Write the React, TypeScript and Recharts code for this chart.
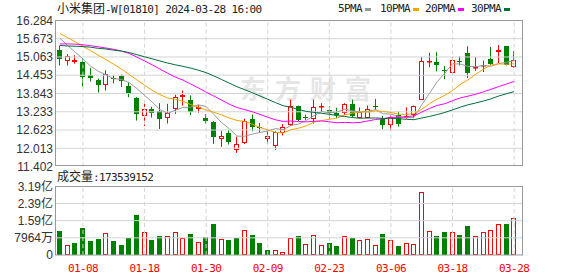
import { ComposedChart, Bar, Line, XAxis, YAxis, ReferenceLine } from "recharts"

const dates = [
  "01-03", "01-04", "01-05", "01-08", "01-09", "01-10", "01-11", "01-12", "01-15", "01-16",
  "01-17", "01-18", "01-19", "01-22", "01-23", "01-24", "01-25", "01-26", "01-29", "01-30",
  "01-31", "02-01", "02-02", "02-05", "02-06", "02-07", "02-08", "02-09", "02-14", "02-15",
  "02-16", "02-19", "02-20", "02-21", "02-22", "02-23", "02-26", "02-27", "02-28", "02-29",
  "03-01", "03-04", "03-05", "03-06", "03-07", "03-08", "03-11", "03-12", "03-13", "03-14",
  "03-15", "03-18", "03-19", "03-20", "03-21", "03-22", "03-25", "03-26", "03-27", "03-28",
]

const open = [
  15.3, 14.92, 14.88, 14.9, 14.46, 14.3, 14.14, 14.36, 14.42, 14.1,
  13.7, 13.08, 13.32, 13.26, 13.04, 13.34, 13.74, 13.64, 13.34, 13.02,
  12.88, 12.32, 12.54, 11.96, 12.18, 12.98, 12.72, 12.34, 12.08, 12.54,
  12.78, 13.42, 13.06, 12.98, 13.38, 13.3, 13.18, 13.18, 13.5, 13.04,
  13.04, 13.42, 13.0, 12.78, 13.12, 13.02, 13.14, 13.64, 14.9, 14.9,
  14.62, 14.54, 14.94, 15.2, 14.7, 14.78, 15.0, 15.22, 15.42, 14.72,
]
const high = [
  15.44, 15.16, 15.12, 15.02, 14.7, 14.34, 14.62, 14.46, 14.48, 14.22,
  13.72, 13.5, 13.4, 13.52, 13.5, 13.8, 13.94, 13.78, 13.46, 13.16,
  12.92, 12.6, 12.62, 12.4, 13.0, 13.14, 12.86, 12.62, 12.58, 12.82,
  13.64, 13.44, 13.14, 13.64, 13.52, 13.42, 13.36, 13.52, 13.64, 13.38,
  13.44, 13.66, 13.1, 13.12, 13.24, 13.38, 13.44, 15.06, 15.2, 15.22,
  14.76, 15.06, 15.08, 15.42, 15.06, 14.94, 15.4, 15.46, 15.42, 15.26,
]
const low = [
  14.78, 14.78, 14.84, 14.06, 14.24, 13.88, 13.94, 14.18, 14.06, 13.72,
  12.94, 12.76, 13.04, 12.66, 12.84, 13.16, 13.44, 13.12, 13.2, 12.84,
  12.16, 12.06, 12.14, 11.86, 12.16, 12.58, 12.54, 12.16, 11.96, 12.44,
  12.76, 12.92, 12.96, 12.84, 13.22, 13.0, 13.02, 13.12, 13.04, 13.02,
  13.02, 13.3, 12.64, 12.6, 12.74, 13.0, 13.02, 13.64, 14.72, 14.58,
  14.32, 14.48, 14.78, 14.36, 14.6, 14.56, 14.8, 14.86, 14.78, 14.7,
]
const close = [
  15.0, 15.08, 14.96, 14.38, 14.36, 14.14, 14.48, 14.32, 14.26, 13.84,
  13.16, 13.32, 13.2, 13.0, 13.2, 13.72, 13.78, 13.24, 13.38, 12.94,
  12.38, 12.42, 12.22, 12.14, 12.92, 12.74, 12.7, 12.44, 12.56, 12.74,
  13.42, 12.96, 13.02, 13.38, 13.42, 13.18, 13.12, 13.5, 13.1, 13.22,
  13.32, 13.38, 12.8, 13.06, 12.84, 13.1, 13.42, 14.92, 14.94, 14.78,
  14.58, 14.96, 14.88, 14.54, 14.72, 14.8, 14.84, 15.3, 14.78, 14.96,
]
const volume = [
  110000000, 48000000, 54000000, 124000000, 63000000, 73000000, 104000000, 63000000, 45000000, 77000000,
  184000000, 108000000, 68000000, 87000000, 90000000, 108000000, 80000000, 96000000, 62000000, 82000000,
  142000000, 76000000, 68000000, 77000000, 117000000, 91000000, 54000000, 22000000, 25000000, 15000000,
  80000000, 87000000, 53000000, 94000000, 48000000, 54000000, 40000000, 90000000, 77000000, 71000000,
  76000000, 48000000, 96000000, 71000000, 40000000, 57000000, 53000000, 294000000, 113000000, 87000000,
  105000000, 108000000, 91000000, 133000000, 90000000, 108000000, 117000000, 145000000, 142000000, 173539152,
]

const ma5 = [
  15.69, 15.45, 15.22, 15.0, 14.756, 14.584, 14.464, 14.336, 14.312, 14.208,
  14.012, 13.78, 13.556, 13.304, 13.176, 13.288, 13.38, 13.388, 13.464, 13.412,
  13.144, 12.872, 12.668, 12.42, 12.416, 12.488, 12.544, 12.588, 12.672, 12.636,
  12.772, 12.824, 12.94, 13.104, 13.24, 13.192, 13.224, 13.32, 13.264, 13.224,
  13.252, 13.304, 13.164, 13.156, 13.08, 13.036, 13.044, 13.468, 13.844, 14.232,
  14.528, 14.836, 14.828, 14.748, 14.736, 14.78, 14.756, 14.84, 14.888, 14.936,
]
const ma10 = [
  15.85, 15.71, 15.57, 15.42, 15.27, 15.12, 14.97, 14.82, 14.66, 14.482,
  14.298, 14.122, 13.946, 13.808, 13.692, 13.65, 13.58, 13.472, 13.384, 13.294,
  13.216, 13.126, 13.028, 12.942, 12.914, 12.816, 12.708, 12.628, 12.546, 12.526,
  12.63, 12.684, 12.764, 12.888, 12.938, 12.982, 13.024, 13.13, 13.184, 13.232,
  13.222, 13.264, 13.242, 13.21, 13.152, 13.144, 13.174, 13.316, 13.5, 13.656,
  13.782, 13.94, 14.148, 14.296, 14.484, 14.654, 14.796, 14.834, 14.818, 14.836,
]
const ma20 = [
  15.5, 15.5, 15.49, 15.47, 15.44, 15.4, 15.36, 15.32, 15.26, 15.18,
  15.06, 14.93, 14.8, 14.66, 14.52, 14.39, 14.29, 14.16, 14.03, 13.888,
  13.757, 13.624, 13.487, 13.375, 13.303, 13.233, 13.144, 13.05, 12.965, 12.91,
  12.923, 12.905, 12.896, 12.915, 12.926, 12.899, 12.866, 12.879, 12.865, 12.879,
  12.926, 12.974, 13.003, 13.049, 13.045, 13.063, 13.099, 13.223, 13.342, 13.444,
  13.502, 13.602, 13.695, 13.753, 13.818, 13.899, 13.985, 14.075, 14.159, 14.246,
]
const ma30 = [
  15.45, 15.43, 15.42, 15.41, 15.39, 15.35, 15.33, 15.29, 15.26, 15.21,
  15.14, 15.07, 15.0, 14.93, 14.86, 14.8, 14.75, 14.69, 14.62, 14.54,
  14.43, 14.31, 14.19, 14.07, 13.97, 13.87, 13.76, 13.65, 13.54, 13.434,
  13.381, 13.311, 13.246, 13.213, 13.181, 13.149, 13.104, 13.077, 13.038, 13.017,
  13.023, 13.025, 13.011, 13.013, 13.001, 12.981, 12.969, 13.025, 13.077, 13.138,
  13.211, 13.296, 13.385, 13.465, 13.525, 13.593, 13.665, 13.76, 13.834, 13.908,
]

const priceTicks = [11.402, 12.013, 12.623, 13.233, 13.843, 14.453, 15.063, 15.673, 16.284]
const volTicks = [0, 79640000, 159280000, 238920000, 318560000]
const volTickLabels = ["0", "7964万", "1.59亿", "2.39亿", "3.19亿"]
const labelDates = ["01-08", "01-18", "01-30", "02-09", "02-23", "03-06", "03-18", "03-28"]

const RED = "#ff0000"
const GREEN = "#008000"
const GRID = "#d4d4d4"
const maColors = { ma5: "#999999", ma10: "#f5a300", ma20: "#ff00ff", ma30: "#006e3a" }
const legendItems = [
  { label: "5PMA", color: maColors.ma5, x: 338 },
  { label: "10PMA", color: maColors.ma10, x: 380 },
  { label: "20PMA", color: maColors.ma20, x: 425 },
  { label: "30PMA", color: maColors.ma30, x: 471 },
]

const data = dates.map((date, i) => ({
  date,
  open: open[i],
  high: high[i],
  low: low[i],
  close: close[i],
  volume: volume[i],
  volUp: i === 0 ? close[i] >= open[i] : close[i] >= close[i - 1],
  ma5: ma5[i],
  ma10: ma10[i],
  ma20: ma20[i],
  ma30: ma30[i],
}))

const mono = { fontFamily: "'DejaVu Sans Mono', monospace", fontSize: 11, letterSpacing: -0.6 }
const cjk = { fontFamily: "'Noto Sans CJK SC', sans-serif", fontSize: 12 }
const axisTick = { fill: "#333", fontSize: 12, fontFamily: "'Liberation Sans', 'Noto Sans CJK SC', sans-serif" }

function Candle(props: any) {
  const { x, y, width, height, payload } = props
  const top = Math.min(y, y + height)
  const bottom = Math.max(y, y + height)
  const { open, close, high, low } = payload
  const k = high === low ? 0 : (bottom - top) / (high - low)
  const py = (v: number) => top + (high - v) * k
  const rising = close >= open
  const color = rising ? RED : GREEN
  const cx = Math.round(x + width / 2 - 0.5) + 0.5
  const bTop = Math.round(py(Math.max(open, close)))
  const bH = Math.max(1, Math.round(py(Math.min(open, close))) - bTop)
  const left = Math.round(x)
  return (
    <g>
      <line x1={cx} x2={cx} y1={py(high)} y2={py(low)} stroke={color} strokeWidth={1} />
      {rising ? (
        <rect x={left + 0.5} y={bTop + 0.5} width={4} height={Math.max(0.5, bH - 1)} fill="#fff" stroke={color} strokeWidth={1} />
      ) : (
        <rect x={left} y={bTop} width={5} height={bH} fill={color} />
      )}
    </g>
  )
}

function VolBar(props: any) {
  const { x, y, width, height, payload } = props
  const left = Math.round(x)
  const t = Math.round(y)
  const h = Math.round(y + height) - t
  if (payload.volUp) {
    return <rect x={left + 0.5} y={t + 0.5} width={width - 1} height={Math.max(0.5, h - 1)} fill="#fff" stroke={RED} strokeWidth={1} />
  }
  return <rect x={left} y={t} width={width} height={h} fill={GREEN} />
}

function DateTick(props: any) {
  const { x, y, payload } = props
  if (!labelDates.includes(payload.value)) return <g />
  return (
    <text x={x} y={y + 15} textAnchor="middle" fill={RED} style={mono}>
      {payload.value}
    </text>
  )
}

export default function App() {
  const lastVol = volume[volume.length - 1]
  return (
    <div style={{ position: "absolute", left: 0, top: 0, width: 578, height: 276, background: "#fff" }}>
      <svg width={578} height={276} style={{ position: "absolute", left: 0, top: 0 }}>
        <text x={240} y={99} fill="#e6e6e6" fontSize={26} fontWeight={700} letterSpacing={9} fontFamily="'Noto Sans CJK SC', sans-serif">
          东方财富
        </text>
      </svg>
      <div style={{ position: "absolute", left: 0, top: 0 }}>
        <ComposedChart width={578} height={178} data={data} margin={{ top: 20.4, right: 56, bottom: 11.4, left: 0 }}>
          <XAxis dataKey="date" hide padding={{ left: 0, right: 4 }} />
          <YAxis
            domain={[11.402, 16.284]}
            ticks={priceTicks}
            interval={0}
            allowDataOverflow
            width={56}
            tickLine={false}
            axisLine={false}
            tickSize={0}
            tickMargin={3}
            tick={axisTick}
            tickFormatter={(v: number) => v.toFixed(3)}
          />
          {priceTicks.slice(1, -1).map((v) => (
            <ReferenceLine key={v} y={v} stroke={GRID} />
          ))}
          {labelDates.map((d) => (
            <ReferenceLine key={d} x={d} stroke={GRID} strokeDasharray="4 3" />
          ))}
          <Line dataKey="ma5" stroke={maColors.ma5} dot={false} strokeWidth={1} isAnimationActive={false} />
          <Line dataKey="ma10" stroke={maColors.ma10} dot={false} strokeWidth={1} isAnimationActive={false} />
          <Line dataKey="ma20" stroke={maColors.ma20} dot={false} strokeWidth={1} isAnimationActive={false} />
          <Line dataKey="ma30" stroke={maColors.ma30} dot={false} strokeWidth={1} isAnimationActive={false} />
          <Bar dataKey={(d: any) => [d.low, d.high]} barSize={5} shape={Candle} isAnimationActive={false} />
        </ComposedChart>
      </div>
      <div style={{ position: "absolute", left: 0, top: 180 }}>
        <ComposedChart width={578} height={96} data={data} margin={{ top: 6.3, right: 56, bottom: 0, left: 0 }}>
          <XAxis
            dataKey="date"
            interval={0}
            padding={{ left: 0, right: 4 }}
            height={21}
            tickLine={false}
            axisLine={false}
            tickSize={0}
            tick={(p: any) => <DateTick {...p} />}
          />
          <YAxis
            domain={[0, 318560000]}
            ticks={volTicks}
            interval={0}
            allowDataOverflow
            width={56}
            tickLine={false}
            axisLine={false}
            tickSize={0}
            tickMargin={3}
            tick={axisTick}
            tickFormatter={(v: number) => volTickLabels[volTicks.indexOf(v)]}
          />
          {volTicks.slice(1, -1).map((v) => (
            <ReferenceLine key={v} y={v} stroke={GRID} />
          ))}
          {labelDates.map((d) => (
            <ReferenceLine key={d} x={d} stroke={GRID} strokeDasharray="4 3" />
          ))}
          <Bar dataKey="volume" barSize={5} shape={VolBar} isAnimationActive={false} />
        </ComposedChart>
      </div>
      <svg width={578} height={276} style={{ position: "absolute", left: 0, top: 0, pointerEvents: "none" }}>
        <rect x={55.5} y={20.5} width={467} height={145} fill="none" stroke="#999" strokeWidth={1} />
        <rect x={55.5} y={186.5} width={467} height={68.5} fill="none" stroke="#999" strokeWidth={1} />
        <text x={57} y={13} fill="#222">
          <tspan style={cjk}>小米集团</tspan>
          <tspan style={mono}>-W[01810] 2024-03-28 16:00</tspan>
        </text>
        {legendItems.map((it) => (
          <g key={it.label}>
            <text x={it.x} y={12} fill="#222" style={mono}>
              {it.label}
            </text>
            <rect x={it.x + it.label.length * 6 + 3} y={8} width={6} height={3} fill={it.color} />
          </g>
        ))}
        <text x={57} y={181} fill="#222">
          <tspan style={cjk}>成交量</tspan>
          <tspan style={mono}>:{lastVol}</tspan>
        </text>
      </svg>
    </div>
  )
}
